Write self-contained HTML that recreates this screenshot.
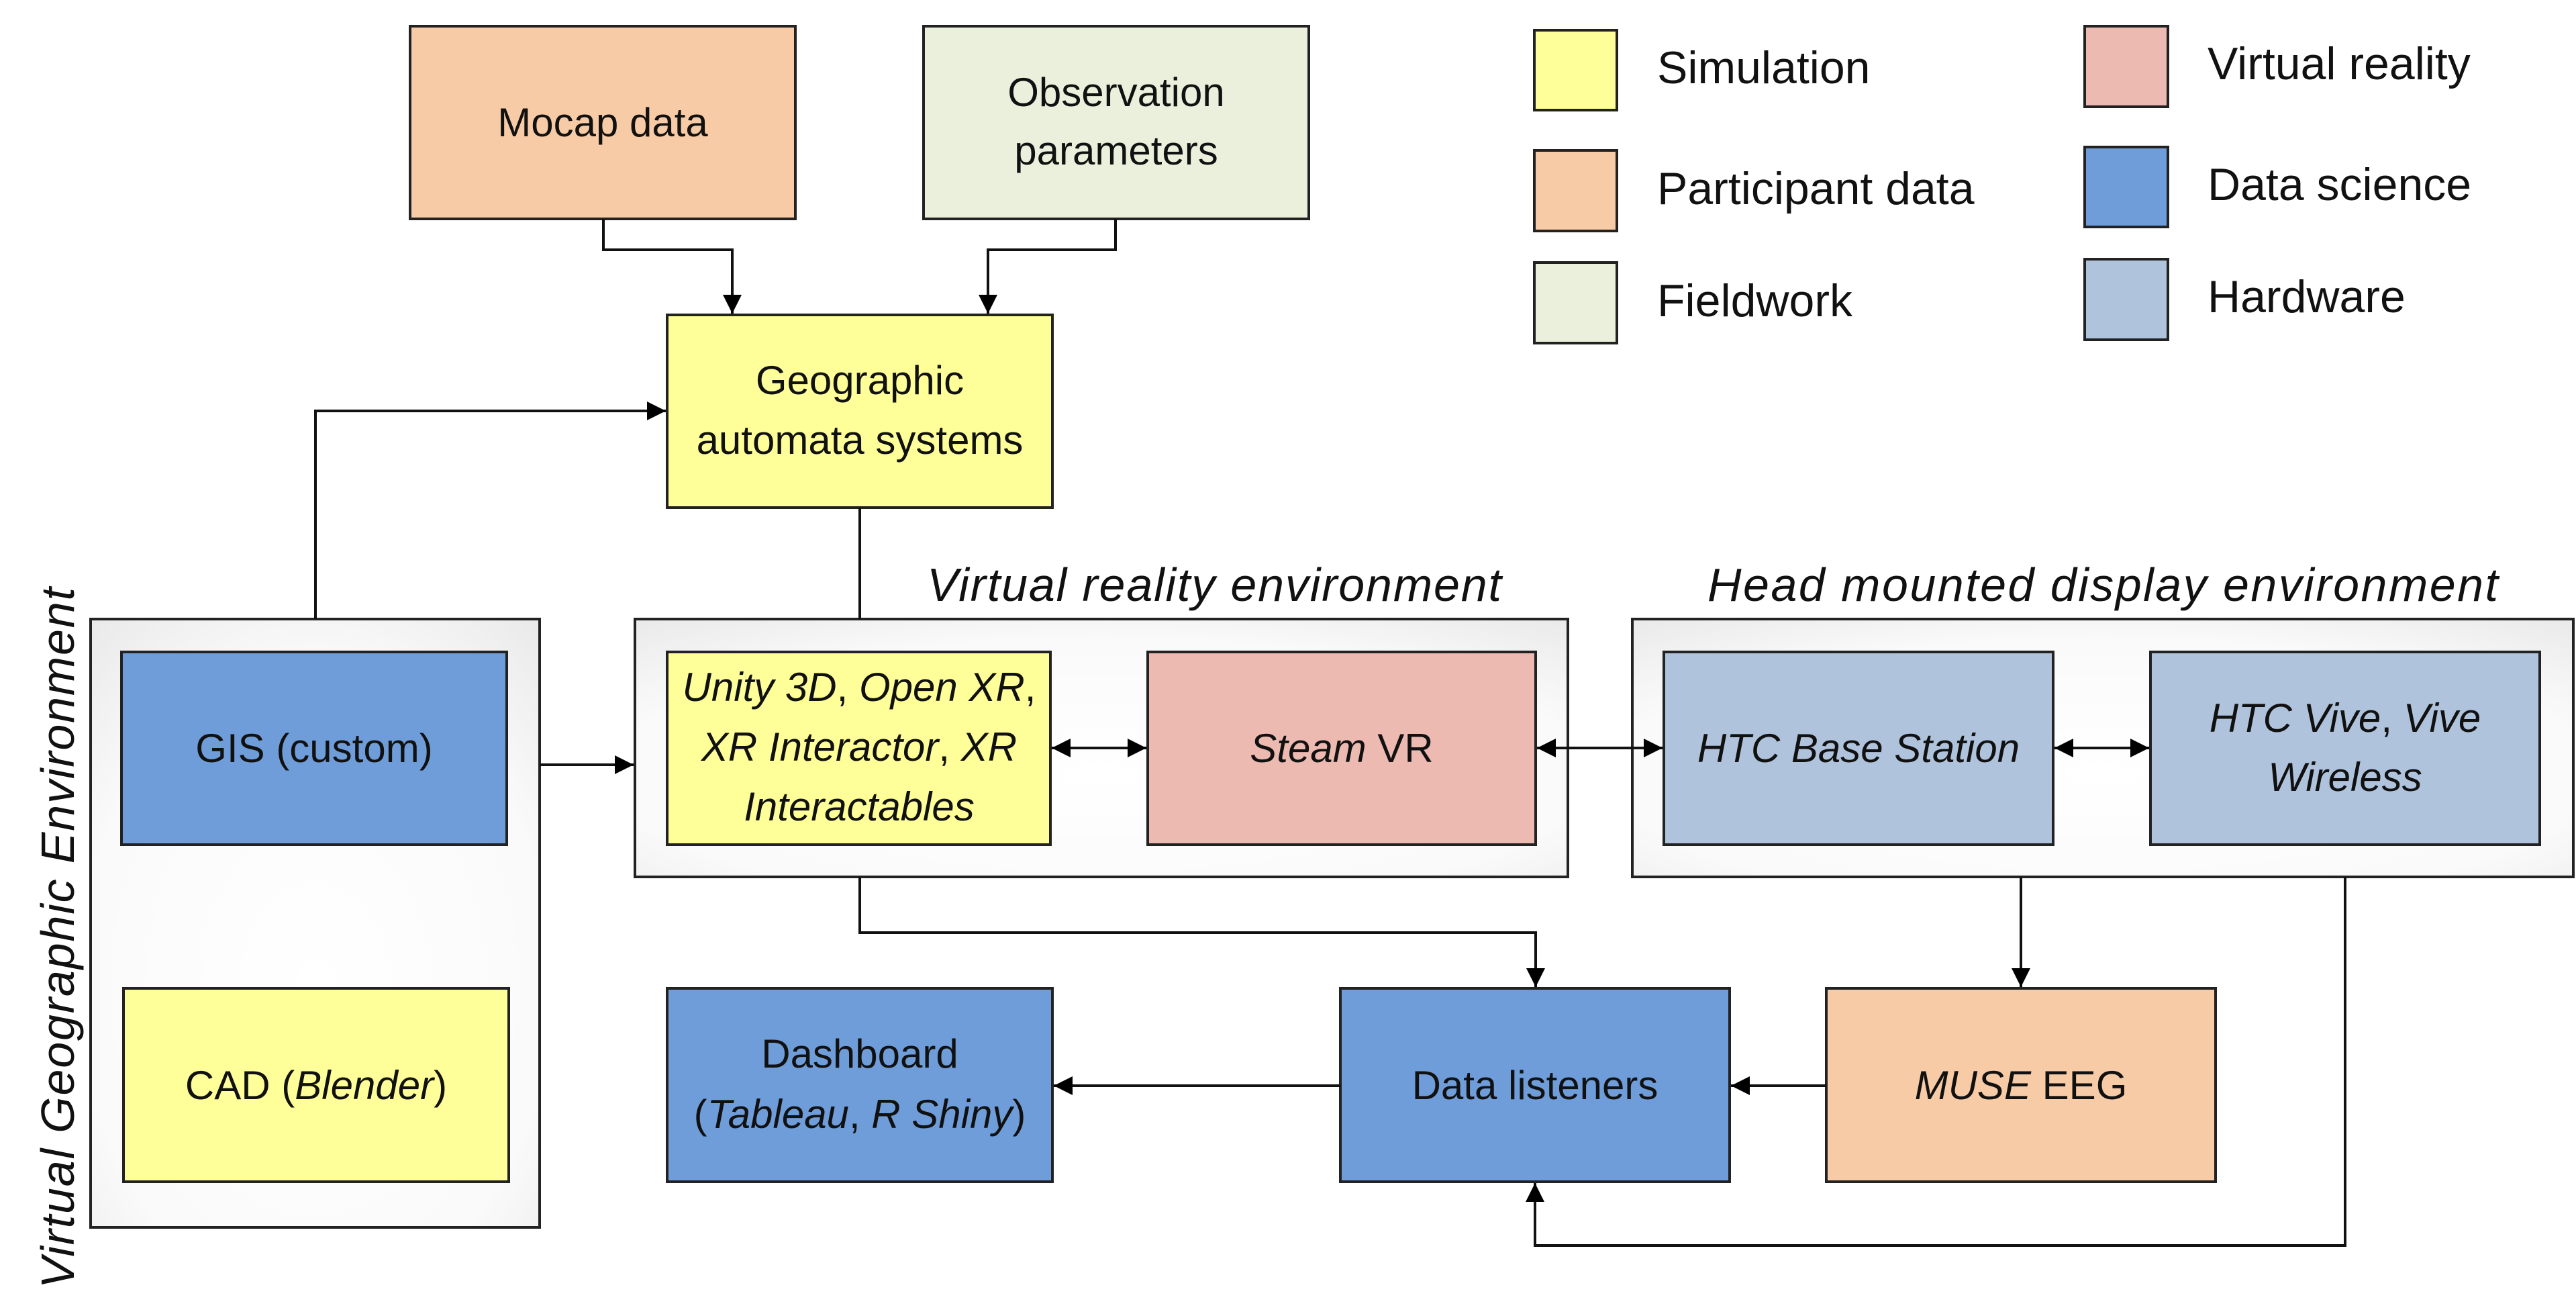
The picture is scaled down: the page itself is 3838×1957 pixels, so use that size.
<!DOCTYPE html>
<html><head><meta charset="utf-8"><style>
html,body{margin:0;padding:0;background:#fff;}
svg{display:block;}
.t{font-family:"Liberation Sans Narrow","Liberation Sans",sans-serif;font-size:60px;fill:#111;}
.l{font-family:"Liberation Sans",sans-serif;font-size:68px;fill:#111;}
.h{font-family:"Liberation Sans",sans-serif;font-size:70px;fill:#111;font-style:italic;}
.i{font-style:italic;}
</style></head><body>
<svg width="3838" height="1957" viewBox="0 0 3838 1957" xmlns="http://www.w3.org/2000/svg">
<defs>
<radialGradient id="g" cx="0.5" cy="0.6" r="0.8">
<stop offset="0" stop-color="#ffffff"/><stop offset="0.65" stop-color="#fafafa"/><stop offset="1" stop-color="#e8e8e8"/>
</radialGradient>
<marker id="a" viewBox="0 0 10 10" refX="10" refY="5" markerWidth="8" markerHeight="7" markerUnits="strokeWidth" orient="auto-start-reverse"><path d="M0,0 L10,5 L0,10 z" fill="#000"/></marker>
</defs>
<g stroke="#222" stroke-width="4">
<rect x="135" y="922" width="669" height="906" fill="url(#g)"/>
<rect x="946" y="922" width="1390" height="384" fill="url(#g)"/>
<rect x="2432" y="922" width="1402" height="384" fill="url(#g)"/>
<rect x="611" y="39" width="574" height="287" fill="#f8cba7"/>
<rect x="1376" y="39" width="574" height="287" fill="#ebf0dc"/>
<rect x="994" y="469" width="574" height="287" fill="#ffff99"/>
<rect x="181" y="971" width="574" height="287" fill="#6f9dd9"/>
<rect x="184" y="1472" width="574" height="288" fill="#ffff99"/>
<rect x="994" y="971" width="571" height="287" fill="#ffff99"/>
<rect x="1710" y="971" width="578" height="287" fill="#edbab1"/>
<rect x="2479" y="971" width="580" height="287" fill="#b0c3dc"/>
<rect x="3204" y="971" width="580" height="287" fill="#b0c3dc"/>
<rect x="994" y="1472" width="574" height="288" fill="#6f9dd9"/>
<rect x="1997" y="1472" width="580" height="288" fill="#6f9dd9"/>
<rect x="2721" y="1472" width="580" height="288" fill="#f8cba7"/>
<rect x="2286" y="45" width="123" height="119" fill="#ffff99"/>
<rect x="2286" y="224" width="123" height="120" fill="#f8cba7"/>
<rect x="2286" y="391" width="123" height="120" fill="#ebf0dc"/>
<rect x="3106" y="39" width="124" height="120" fill="#edbab1"/>
<rect x="3106" y="219" width="124" height="119" fill="#6f9dd9"/>
<rect x="3106" y="386" width="124" height="120" fill="#b0c3dc"/>
</g>
<g stroke="#111" stroke-width="4" fill="none">
<path d="M899,326 V372 H1091 V467" marker-end="url(#a)"/>
<path d="M1662,326 V372 H1472 V467" marker-end="url(#a)"/>
<path d="M470,922 V612 H992" marker-end="url(#a)"/>
<path d="M1281,756 V922"/>
<path d="M804,1139 H944" marker-end="url(#a)"/>
<path d="M1567,1114 H1708" marker-start="url(#a)" marker-end="url(#a)"/>
<path d="M2290,1114 H2477" marker-start="url(#a)" marker-end="url(#a)"/>
<path d="M3061,1114 H3202" marker-start="url(#a)" marker-end="url(#a)"/>
<path d="M1281,1306 V1389 H2288 V1470" marker-end="url(#a)"/>
<path d="M3011,1306 V1470" marker-end="url(#a)"/>
<path d="M2721,1617 H2579" marker-end="url(#a)"/>
<path d="M1997,1617 H1570" marker-end="url(#a)"/>
<path d="M3494,1306 V1855 H2287 V1762" marker-end="url(#a)"/>
</g>
<g class="t" text-anchor="middle">
<text x="898" y="203">Mocap data</text>
<text x="1663" y="158">Observation</text>
<text x="1663" y="245">parameters</text>
<text x="1281" y="587">Geographic</text>
<text x="1281" y="676">automata systems</text>
<text x="468" y="1135">GIS (custom)</text>
<text x="471" y="1637">CAD (<tspan class="i">Blender</tspan>)</text>
<text x="1280" y="1044" class="i">Unity 3D<tspan font-style="normal">, </tspan>Open XR<tspan font-style="normal">,</tspan></text>
<text x="1280" y="1133" class="i">XR Interactor<tspan font-style="normal">, </tspan>XR</text>
<text x="1280" y="1222" class="i">Interactables</text>
<text x="1999" y="1135"><tspan class="i">Steam</tspan> VR</text>
<text x="2769" y="1135" class="i">HTC Base Station</text>
<text x="3494" y="1090" class="i">HTC Vive<tspan font-style="normal">, </tspan>Vive</text>
<text x="3494" y="1178" class="i">Wireless</text>
<text x="1281" y="1590">Dashboard</text>
<text x="1281" y="1680">(<tspan class="i">Tableau</tspan>, <tspan class="i">R Shiny</tspan>)</text>
<text x="2287" y="1637">Data listeners</text>
<text x="3011" y="1637"><tspan class="i">MUSE</tspan> EEG</text>
</g>
<g class="l">
<text x="2469" y="124">Simulation</text>
<text x="2469" y="304">Participant data</text>
<text x="2469" y="471">Fieldwork</text>
<text x="3289" y="118">Virtual reality</text>
<text x="3289" y="298">Data science</text>
<text x="3289" y="465">Hardware</text>
</g>
<g class="h">
<text x="1381" y="895" textLength="856">Virtual reality environment</text>
<text x="2544" y="895" textLength="1178">Head mounted display environment</text>
<text transform="translate(110,1919) rotate(-90)" textLength="1044">Virtual Geographic Environment</text>
</g>
</svg>
</body></html>
